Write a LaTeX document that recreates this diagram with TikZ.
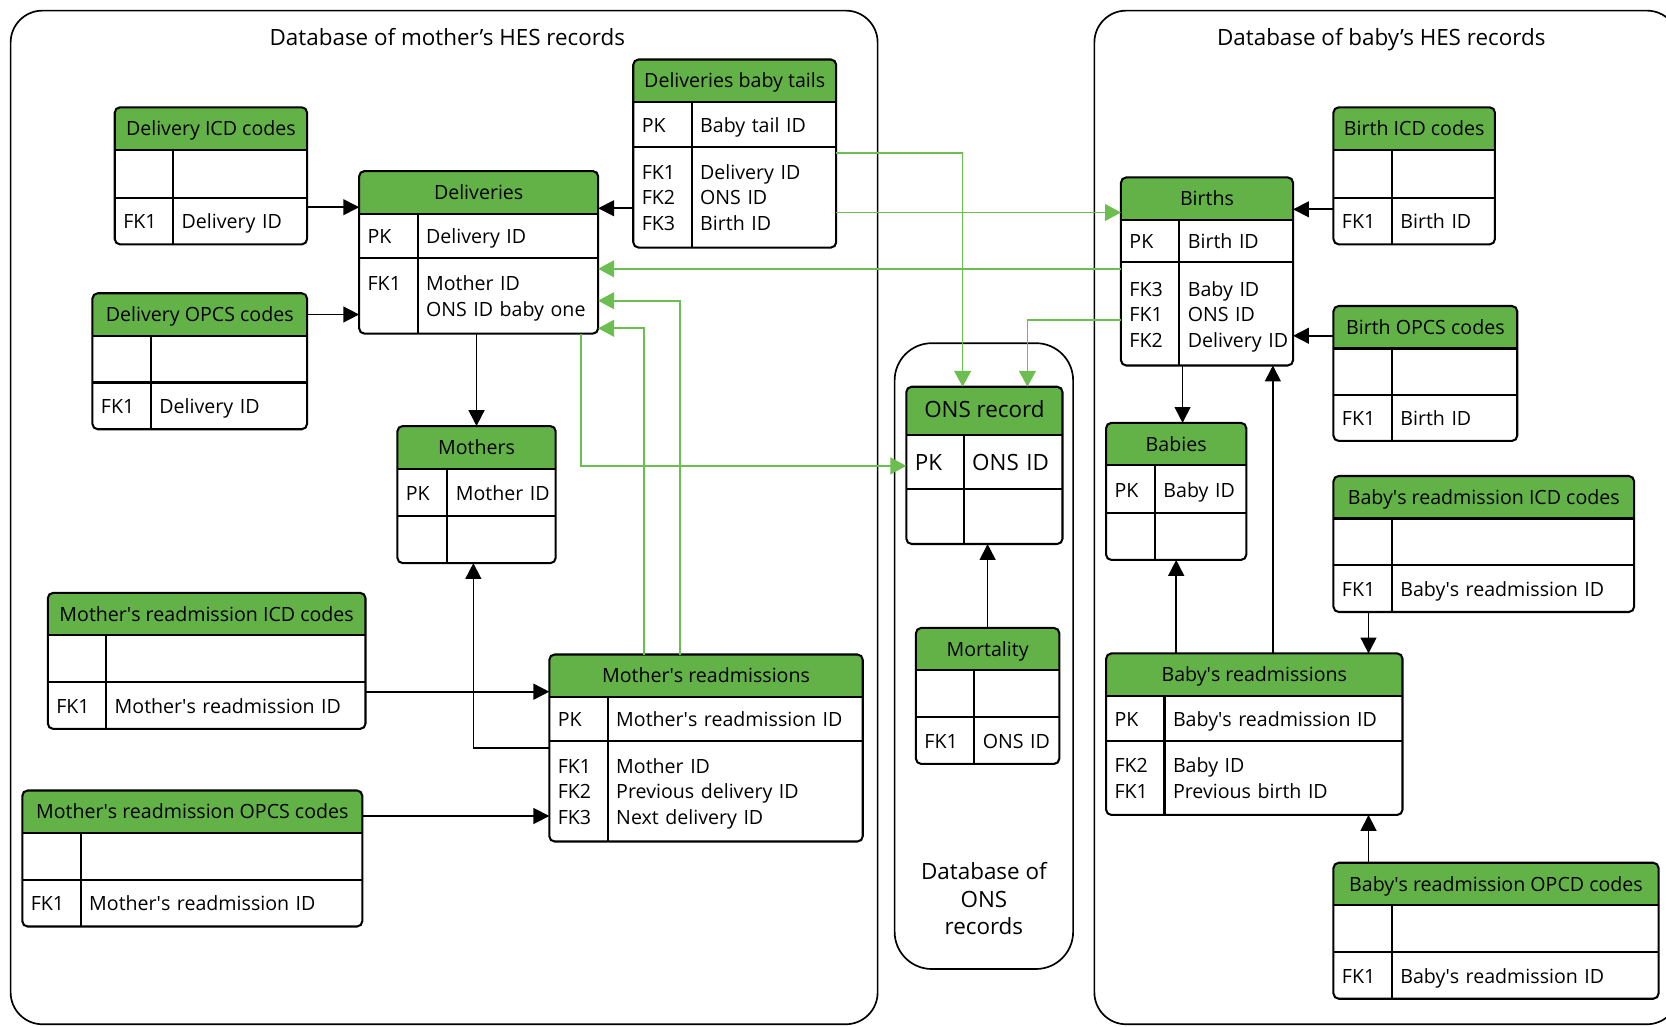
\documentclass[tikz,border=0pt]{standalone}
\usepackage{fontspec}
\setmainfont{Open Sans}
\usetikzlibrary{positioning, arrows.meta, fit}

\definecolor{hdrgreen}{RGB}{99,178,72}
\definecolor{lnkgreen}{RGB}{108,190,80}

\newcommand{\pxu}{0.02cm}
\newcommand{\erthh}{40}
\newcommand{\bigtxt}{\fontsize{12}{14}\selectfont}
\renewcommand{\arraystretch}{1.1}
\newcommand{\ertrow}[1]{\raisebox{-0.05cm}[\height][\depth]{\begin{tabular}{@{}p{\ertkw}@{}l@{}}#1\end{tabular}}}

% one table: name, top left, width, key column, title, row heights and rows
\newcommand{\ertable}[9]{%
  \pgfmathsetlengthmacro\ertkw{#4*\pxu}%
  \pgfmathsetlengthmacro\ertw{#3*\pxu}%
  \pgfmathsetlengthmacro\erttw{(#3-16)*\pxu}%
  \pgfmathsetlengthmacro\ertha{#6*\pxu}%
  \pgfmathsetlengthmacro\erthb{#8*\pxu}%
  \pgfmathsetlengthmacro\erth{\erthh*\pxu}%
  \fill[hdrgreen, rounded corners=0.1cm] #2 rectangle ++(#3,\erthh);
  \fill[hdrgreen] #2 ++(0,\erthh/2) rectangle ++(#3,\erthh/2);
  \node[tblhead, minimum width=\ertw, minimum height=\erth, anchor=north west] (#1-h) at #2 {#5};
  \node[tblrow, text width=\erttw, minimum height=\ertha, anchor=north west] (#1-a) at (#1-h.south west) {\ertrow{#7}};
  \node[tblrow, text width=\erttw, minimum height=\erthb, anchor=north west] (#1-b) at (#1-a.south west) {\ertrow{#9}};
  \node[fit=(#1-h)(#1-b), inner sep=0pt, outer sep=0pt] (#1) {};
  \draw[tblline] (#1-a.north west) -- (#1-a.north east) (#1-b.north west) -- (#1-b.north east)
    ([xshift=\ertkw]#1-a.north west) -- ([xshift=\ertkw]#1-b.south west);
  \draw[tblline, rounded corners=0.1cm] (#1.north west) rectangle (#1.south east);
}

\begin{document}
\begin{tikzpicture}[
    x=0.02cm, y=-0.02cm,
    font=\fontsize{10.5}{12.5}\selectfont,
    tblhead/.style={rectangle, inner sep=0pt, outer sep=0pt, text height=9pt, text depth=1.5pt, align=center},
    tblrow/.style={rectangle, inner xsep=0.16cm, inner ysep=0pt, outer sep=0pt, align=left},
    tblline/.style={line width=1.1pt},
    dbframe/.style={line width=0.9pt, rounded corners=0.6cm},
    dbtitle/.style={font=\fontsize{12}{14.7}\selectfont, align=center},
    conn/.style={-{Triangle[length=8.5pt, width=8.5pt]}, line width=0.9pt},
    gconn/.style={-{Triangle[length=8.5pt, width=9pt]}, line width=0.9pt, draw=lnkgreen}
]
    \useasboundingbox (0,0) rectangle (1568,966);

    % Databases
    \draw[dbframe] (10,10) rectangle (826,964);
    \draw[dbframe] (1030,10) rectangle (1580,964);
    \draw[dbframe, rounded corners=0.7cm] (842,323) rectangle (1010,912);
    \node[dbtitle, anchor=base] (mtitle) at (421,43) {Database of mother’s HES records};
    \node[dbtitle, anchor=base] (btitle) at (1300,43) {Database of baby’s HES records};
    \node[dbtitle] (otitle) at (926,846) {Database of\\ONS\\records};

    % Mother's tables
    \ertable{dicd}{(108,101)}{181}{55}{Delivery ICD codes}{45}{}{44}{FK1 & Delivery ID}
    \ertable{dopcs}{(87,276)}{202}{55}{Delivery OPCS codes}{44}{}{44}{FK1 & Delivery ID}
    \ertable{deliv}{(338,161)}{225}{55}{Deliveries}{42}{PK & Delivery ID}{71}{FK1 & Mother ID\\ & ONS ID baby one}
    \ertable{tails}{(596,56)}{191}{55}{Deliveries baby tails}{42}{PK & Baby tail ID}{95}{FK1 & Delivery ID\\FK2 & ONS ID\\FK3 & Birth ID}
    \ertable{mothers}{(374,401)}{149}{47}{Mothers}{45}{PK & Mother ID}{44}{}
    \ertable{micd}{(45,558)}{299}{55}{Mother\textquotesingle s readmission ICD codes}{44}{}{44}{FK1 & Mother\textquotesingle s readmission ID}
    \ertable{mopcs}{(21,744)}{320}{55}{Mother\textquotesingle s readmission OPCS codes}{44}{}{44}{FK1 & Mother\textquotesingle s readmission ID}
    \ertable{mread}{(517,616)}{295}{55}{Mother\textquotesingle s readmissions}{41}{PK & Mother\textquotesingle s readmission ID}{95}{FK1 & Mother ID\\FK2 & Previous delivery ID\\FK3 & Next delivery ID}

    % ONS tables
    \begin{scope}[tblhead/.append style={font=\bigtxt}, tblrow/.append style={font=\bigtxt}]
        \renewcommand{\erthh}{45}
        \ertable{onsrec}{(853,364)}{147}{54}{ONS record}{51}{PK & ONS ID}{52}{}
    \end{scope}
    \ertable{mort}{(862,591)}{135}{55}{Mortality}{44}{}{44}{FK1 & ONS ID}

    % Baby's tables
    \ertable{births}{(1055,167)}{162}{55}{Births}{40}{PK & Birth ID}{97}{FK3 & Baby ID\\FK1 & ONS ID\\FK2 & Delivery ID}
    \ertable{bicd}{(1255,101)}{152}{55}{Birth ICD codes}{45}{}{44}{FK1 & Birth ID}
    \ertable{bopcs}{(1255,288)}{173}{55}{Birth OPCS codes}{44}{}{43}{FK1 & Birth ID}
    \ertable{babies}{(1041,398)}{132}{46}{Babies}{45}{PK & Baby ID}{44}{}
    \ertable{bricd}{(1255,448)}{283}{55}{Baby\textquotesingle s readmission ICD codes}{44}{}{44}{FK1 & Baby\textquotesingle s readmission ID}
    \ertable{bread}{(1041,615)}{279}{55}{Baby\textquotesingle s readmissions}{42}{PK & Baby\textquotesingle s readmission ID}{70}{FK2 & Baby ID\\FK1 & Previous birth ID}
    \ertable{bropcd}{(1255,812)}{306}{55}{Baby\textquotesingle s readmission OPCD codes}{44}{}{44}{FK1 & Baby\textquotesingle s readmission ID}

    % Black links
    \draw[conn] ([yshift=-9*\pxu]dicd-b.north east) -- ([yshift=-9*\pxu]dicd-b.north east -| deliv.west);
    \draw[conn] (dopcs-h.east) -- (dopcs-h.east -| deliv.west);
    \draw[conn] ([yshift=-15*\pxu]deliv-h.east -| tails.west) -- ([yshift=-15*\pxu]deliv-h.east);
    \draw[conn] (mothers.north |- deliv.south) -- (mothers.north);
    \draw[conn] ([yshift=-7*\pxu]mread-b.north west) -| ([xshift=-3*\pxu]mothers.south);
    \draw[conn] ([yshift=-9*\pxu]micd-b.north east) -- ([yshift=-9*\pxu]micd-b.north east -| mread.west);
    \draw[conn] ([yshift=-4*\pxu]mopcs-h.east) -- ([yshift=-4*\pxu]mopcs-h.east -| mread.west);
    \draw[conn] (mort.north) -- (mort.north |- onsrec.south);
    \draw[conn] ([yshift=-11*\pxu]bicd-b.north west) -- ([yshift=-11*\pxu]bicd-b.north west -| births.east);
    \draw[conn] ([yshift=-8*\pxu]bopcs-h.west) -- ([yshift=-8*\pxu]bopcs-h.west -| births.east);
    \draw[conn] ([xshift=6*\pxu]babies.north |- births.south) -- ([xshift=6*\pxu]babies.north);
    \draw[conn] (babies.south |- bread.north) -- (babies.south);
    \draw[conn] ([xshift=-19*\pxu]births.south east |- bread.north) -- ([xshift=-19*\pxu]births.south east);
    \draw[conn] ([xshift=33*\pxu]bricd.south west) -- ([xshift=33*\pxu]bricd.south west |- bread.north);
    \draw[conn] ([xshift=33*\pxu]bropcd.north west) -- ([xshift=33*\pxu]bropcd.north west |- bread.south);

    % Green links across databases
    \draw[gconn] ([yshift=-6*\pxu]tails-b.north east) -| ([xshift=53*\pxu]onsrec.north west);
    \draw[gconn] ([yshift=-62*\pxu]tails-b.north east) -- ([yshift=-62*\pxu]tails-b.north east -| births.west);
    \draw[gconn] ([yshift=-6*\pxu]births-b.north west) -- ([yshift=-6*\pxu]births-b.north west -| deliv.east);
    \draw[gconn] ([yshift=-54*\pxu]births-b.north west) -| ([xshift=114*\pxu]onsrec.north west);
    \draw[gconn] ([xshift=89*\pxu]mread.north west) |- ([yshift=5*\pxu]deliv-b.south east);
    \draw[gconn] ([xshift=123*\pxu]mread.north west) |- ([yshift=31*\pxu]deliv-b.south east);
    \draw[gconn] ([xshift=-16*\pxu]deliv.south east) |- ([yshift=-4*\pxu]onsrec-a.west);

\end{tikzpicture}
\end{document}
